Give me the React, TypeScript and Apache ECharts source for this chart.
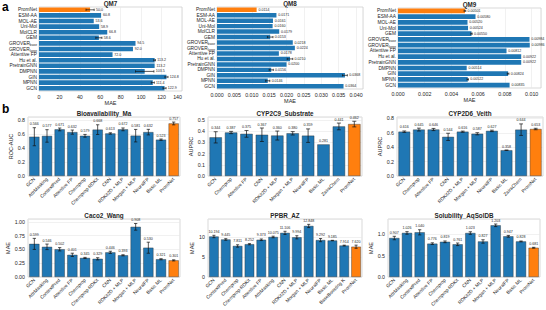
import React, { useEffect, useRef } from "react";
import * as echarts from "echarts";

const FONT = "'Liberation Sans', Arial, Helvetica, sans-serif";
const BLUE = "#1f77b4";
const ORANGE = "#ff7f0e";
const HIGHLIGHT = "PromNet";
const INK = "#262626";

// ---- a: quantum-property benchmarks (listed top to bottom)
const qm78Models = ["PromNet", "ESM-AA", "MOL-AE", "Uni-Mol", "MolCLR", "GEM", "GROVER_base", "GROVER_large", "Attentive FP", "Hu et al.", "PretrainGNN", "DMPNN", "GIN", "MPNN", "GCN"];
const qm7Mae = [50.0, 60.8, 53.6, 58.9, 66.8, 58.6, 94.5, 92.0, 72.0, 113.2, 113.2, 103.5, 124.8, 111.4, 122.9];
const qm7Err = [4.0, 0, 0, 0, 0, 3.0, 0, 0, 0, 0.8, 0, 9.0, 1.5, 1.5, 1.5];
const qm8Mae = [0.0114, 0.0171, 0.0161, 0.016, 0.0179, 0.0153, 0.0218, 0.0224, 0.0178, 0.021, 0.02, 0.0156, 0.0368, 0.0146, 0.0364];
const qm8Err = [0, 0, 0, 0, 0, 0.0008, 0, 0, 0, 0.0008, 0, 0.0006, 0.0007, 0.0006, 0];
const qm9Models = ["PromNet", "ESM-AA", "MOL-AE", "Uni-Mol", "GEM", "GROVER_base", "GROVER_large", "Attentive FP", "Hu et al.", "PretrainGNN", "DMPNN", "GIN", "MPNN", "GCN"];
const qm9Mae = [0.00501, 0.0058, 0.0052, 0.00524, 0.0055, 0.00984, 0.00986, 0.00812, 0.00922, 0.00922, 0.00514, 0.00824, 0.00522, 0.00835];
const qm9Err = [0.00006, 0, 0, 0, 0.00005, 0, 0, 0, 0, 0, 0, 0.00006, 0.00005, 0];

// ---- b: ADMET benchmarks
const bioModels = ["GCN", "AttrMasking", "ContextPred", "Attentive FP", "Chemprop", "Chemprop-RDKit", "CNN", "RDKit2D + MLP", "Morgan + MLP", "NeuralFP", "Basic ML", "PromNet"];
const bioAuc = [0.566, 0.577, 0.671, 0.632, 0.579, 0.668, 0.613, 0.672, 0.581, 0.632, 0.523, 0.757];
const bioErr = [0.13, 0.09, 0.02, 0.03, 0.02, 0.07, 0.01, 0.02, 0.09, 0.04, 0.01, 0.02];

const cypModels = ["GCN", "Chemprop", "Attentive FP", "CNN", "RDKit2D + MLP", "Morgan + MLP", "NeuralFP", "Basic ML", "ZairaChem", "PromNet"];
const cyp2c9Auprc = [0.344, 0.387, 0.375, 0.367, 0.36, 0.38, 0.359, 0.281, 0.441, 0.462];
const cyp2c9Err = [0.05, 0.01, 0.03, 0.06, 0.04, 0.015, 0.06, 0, 0.03, 0.025];
const cyp2d6Auprc = [0.616, 0.645, 0.646, 0.544, 0.616, 0.587, 0.627, 0.358, 0.644, 0.653];
const cyp2d6Err = [0.01, 0.02, 0.015, 0.05, 0.008, 0.015, 0.01, 0.003, 0.08, 0.01];

const cacoMae = [0.599, 0.546, 0.502, 0.401, 0.345, 0.329, 0.446, 0.393, 0.908, 0.53, 0.321, 0.301];
const cacoErr = [0.1, 0.05, 0.03, 0.03, 0.01, 0.02, 0.02, 0.01, 0.06, 0.1, 0.01, 0.01];

const ppbrModels = ["GCN", "ContextPred", "Chemprop", "Chemprop-RDKit", "Attentive FP", "AttrMasking", "CNN", "RDKit2D + MLP", "Morgan + MLP", "NeuralFP", "Basic ML", "BaseBoosting K", "PromNet"];
const ppbrMae = [10.194, 9.445, 7.811, 8.252, 9.373, 10.075, 11.106, 9.994, 12.848, 9.292, 9.185, 7.914, 7.62];
const ppbrErr = [0.3, 0.2, 0.3, 0.15, 0.2, 0.2, 0.4, 0.4, 0.4, 0.4, 0.05, 0.1, 0.4];

const solMae = [0.907, 1.026, 1.04, 0.776, 0.819, 0.761, 1.023, 0.827, 1.203, 0.947, 0.828, 0.681];
const solErr = [0.04, 0.03, 0.06, 0.02, 0.02, 0.03, 0.03, 0.04, 0.03, 0.02, 0.01, 0.01];

type Rect = { left: number; top: number; width: number; height: number };
type Panel = {
  title: string;
  cats: string[];
  vals: number[];
  errs: number[];
  rect: Rect;
  max: number;
  interval: number;
  tickDigits: number;
  valueDigits: number;
  axisName: string;
  nameGap: number;
};

const panelA: Panel[] = [
  { title: "QM7", cats: qm78Models, vals: qm7Mae, errs: qm7Err, rect: { left: 39, top: 7, width: 143, height: 84 }, max: 140, interval: 20, tickDigits: 0, valueDigits: 1, axisName: "MAE", nameGap: 9 },
  { title: "QM8", cats: qm78Models, vals: qm8Mae, errs: qm8Err, rect: { left: 217, top: 7, width: 146, height: 82 }, max: 0.042, interval: 0.005, tickDigits: 3, valueDigits: 4, axisName: "MAE", nameGap: 9 },
  { title: "QM9", cats: qm9Models, vals: qm9Mae, errs: qm9Err, rect: { left: 398, top: 8, width: 143, height: 80 }, max: 0.0107, interval: 0.002, tickDigits: 3, valueDigits: 5, axisName: "MAE", nameGap: 9 },
];

const panelB: Panel[] = [
  { title: "Bioavailability_Ma", cats: bioModels, vals: bioAuc, errs: bioErr, rect: { left: 28, top: 117, width: 152, height: 59 }, max: 0.85, interval: 0.2, tickDigits: 1, valueDigits: 3, axisName: "ROC-AUC", nameGap: 14 },
  { title: "CYP2C9_Substrate", cats: cypModels, vals: cyp2c9Auprc, errs: cyp2c9Err, rect: { left: 208, top: 117, width: 154, height: 59 }, max: 0.525, interval: 0.1, tickDigits: 1, valueDigits: 3, axisName: "AUPRC", nameGap: 11 },
  { title: "CYP2D6_Veith", cats: cypModels, vals: cyp2d6Auprc, errs: cyp2d6Err, rect: { left: 397, top: 117, width: 146, height: 59 }, max: 0.82, interval: 0.2, tickDigits: 1, valueDigits: 3, axisName: "AUPRC", nameGap: 14 },
  { title: "Caco2_Wang", cats: bioModels, vals: cacoMae, errs: cacoErr, rect: { left: 28, top: 219, width: 152, height: 58 }, max: 1.05, interval: 0.25, tickDigits: 2, valueDigits: 3, axisName: "MAE", nameGap: 16 },
  { title: "PPBR_AZ", cats: ppbrModels, vals: ppbrMae, errs: ppbrErr, rect: { left: 208, top: 219, width: 154, height: 58 }, max: 14.6, interval: 5, tickDigits: 0, valueDigits: 3, axisName: "MAE", nameGap: 10 },
  { title: "Solubility_AqSolDB", cats: bioModels, vals: solMae, errs: solErr, rect: { left: 388, top: 219, width: 152, height: 58 }, max: 1.35, interval: 0.5, tickDigits: 1, valueDigits: 3, axisName: "MAE", nameGap: 10 },
];

// Only label ticks that sit on the regular interval (the axis max may not)
function tickFmt(digits: number, interval: number) {
  return (v: number) => {
    const k = v / interval;
    if (Math.abs(k - Math.round(k)) > 1e-6) return "";
    return v.toFixed(digits);
  };
}

function barColor(name: string) {
  return name === HIGHLIGHT ? ORANGE : BLUE;
}

function textStyle(extra: any) {
  return {
    fontFamily: FONT,
    fill: INK,
    ...extra,
    textAlign: extra.align,
    textVerticalAlign: extra.verticalAlign,
  };
}

function buildOption() {
  const grid: any[] = [];
  const xAxis: any[] = [];
  const yAxis: any[] = [];
  const series: any[] = [];
  const graphic: any[] = [];

  const valueAxisBase = (p: Panel, gi: number) => {
    const onGrid = Math.abs(p.max / p.interval - Math.round(p.max / p.interval)) < 1e-6;
    return {
      type: "value",
      gridIndex: gi,
      min: 0,
      max: p.max,
      interval: p.interval,
      axisLine: { show: false },
      axisTick: { show: false },
      axisLabel: {
        fontSize: 5.3,
        color: INK,
        fontFamily: FONT,
        margin: 3,
        showMinLabel: true,
        showMaxLabel: onGrid,
        alignMaxLabel: onGrid ? "right" : undefined,
        hideOverlap: false,
        formatter: tickFmt(p.tickDigits, p.interval),
      },
      splitLine: { show: true, lineStyle: { color: "#e8e8e8", width: 0.6 } },
      name: p.axisName,
      nameLocation: "middle",
      nameGap: p.nameGap,
      nameTextStyle: { fontSize: 5.5, color: INK, fontFamily: FONT },
    };
  };

  const titleOf = (p: Panel) => ({
    type: "text",
    x: p.rect.left + p.rect.width / 2,
    y: p.rect.top - 1,
    style: textStyle({ text: p.title, fontSize: 6.3, fontWeight: "bold", align: "center", verticalAlign: "bottom" }),
  });

  // Horizontal panels (row a)
  panelA.forEach((p) => {
    const gi = grid.length;
    grid.push({ ...p.rect, show: true, borderColor: "#cfcfcf", borderWidth: 0.8, backgroundColor: "transparent" });
    xAxis.push(valueAxisBase(p, gi));
    yAxis.push({
      type: "category",
      gridIndex: gi,
      data: p.cats,
      inverse: true,
      axisLine: { show: false },
      axisTick: { show: false },
      splitLine: { show: false },
      axisLabel: {
        interval: 0,
        fontSize: 4.8,
        color: INK,
        fontFamily: FONT,
        margin: 2,
        formatter: (v: string) => (v.startsWith("GROVER_") ? `GROVER{sub|${v.slice(7)}}` : v),
        rich: { sub: { fontSize: 3.3, color: INK, fontFamily: FONT, padding: [3, 0, 0, 0] } },
      },
    });
    series.push({
      type: "bar",
      xAxisIndex: gi,
      yAxisIndex: gi,
      barCategoryGap: "18%",
      data: p.vals.map((v, i) => ({ value: v, itemStyle: { color: barColor(p.cats[i]) } })),
    });
    series.push({
      type: "custom",
      xAxisIndex: gi,
      yAxisIndex: gi,
      silent: true,
      z: 5,
      data: p.vals.map((v, i) => [v, i, p.errs[i]]),
      renderItem: (_params: any, api: any) => {
        const v = api.value(0);
        const c = api.value(1);
        const e = api.value(2);
        const band = api.size([0, 1])[1];
        const cap = band * 0.2;
        const lo = api.coord([v - e, c]);
        const hi = api.coord([v + e, c]);
        const children: any[] = [];
        if (e > 0) {
          const stroke = { stroke: "#111", lineWidth: 0.7 };
          children.push({ type: "line", shape: { x1: lo[0], y1: lo[1], x2: hi[0], y2: hi[1] }, style: stroke });
          children.push({ type: "line", shape: { x1: lo[0], y1: lo[1] - cap, x2: lo[0], y2: lo[1] + cap }, style: stroke });
          children.push({ type: "line", shape: { x1: hi[0], y1: hi[1] - cap, x2: hi[0], y2: hi[1] + cap }, style: stroke });
        }
        children.push({
          type: "text",
          style: textStyle({ text: v.toFixed(p.valueDigits), x: hi[0] + 1.8, y: hi[1], fontSize: 3.6, align: "left", verticalAlign: "middle" }),
        });
        return { type: "group", children };
      },
    });
    graphic.push(titleOf(p));
  });

  // Vertical panels (row b)
  panelB.forEach((p) => {
    const gi = grid.length;
    grid.push({ ...p.rect, show: true, borderColor: "#cfcfcf", borderWidth: 0.8, backgroundColor: "transparent" });
    xAxis.push({
      type: "category",
      gridIndex: gi,
      data: p.cats,
      axisLine: { show: false },
      axisTick: { show: false },
      splitLine: { show: false },
      axisLabel: { fontSize: 4.8, color: INK, fontFamily: FONT, margin: 2.5, rotate: 45, interval: 0 },
    });
    yAxis.push(valueAxisBase(p, gi));
    series.push({
      type: "bar",
      xAxisIndex: gi,
      yAxisIndex: gi,
      barCategoryGap: "20%",
      data: p.vals.map((v, i) => ({
        value: v,
        itemStyle: { color: barColor(p.cats[i]), borderColor: "#2b2b2b", borderWidth: 0.4 },
      })),
    });
    series.push({
      type: "custom",
      xAxisIndex: gi,
      yAxisIndex: gi,
      silent: true,
      z: 5,
      data: p.vals.map((v, i) => [i, v, p.errs[i]]),
      renderItem: (_params: any, api: any) => {
        const c = api.value(0);
        const v = api.value(1);
        const e = api.value(2);
        const band = api.size([1, 0])[0];
        const cap = band * 0.13;
        const lo = api.coord([c, v - e]);
        const hi = api.coord([c, v + e]);
        const children: any[] = [];
        if (e > 0) {
          const stroke = { stroke: "#111", lineWidth: 0.7 };
          children.push({ type: "line", shape: { x1: lo[0], y1: lo[1], x2: hi[0], y2: hi[1] }, style: stroke });
          children.push({ type: "line", shape: { x1: lo[0] - cap, y1: lo[1], x2: lo[0] + cap, y2: lo[1] }, style: stroke });
          children.push({ type: "line", shape: { x1: hi[0] - cap, y1: hi[1], x2: hi[0] + cap, y2: hi[1] }, style: stroke });
        }
        children.push({
          type: "text",
          style: textStyle({ text: v.toFixed(p.valueDigits), x: hi[0], y: hi[1] - 1.5, fontSize: 3.6, align: "center", verticalAlign: "bottom" }),
        });
        return { type: "group", children };
      },
    });
    graphic.push(titleOf(p));
  });

  graphic.push({
    type: "text",
    x: 2,
    y: 1,
    style: textStyle({ text: "a", fontSize: 12, fontWeight: "bold", fill: "#000", align: "left", verticalAlign: "top" }),
  });
  graphic.push({
    type: "text",
    x: 2,
    y: 103,
    style: textStyle({ text: "b", fontSize: 12, fontWeight: "bold", fill: "#000", align: "left", verticalAlign: "top" }),
  });

  return {
    animation: false,
    backgroundColor: "#ffffff",
    textStyle: { fontFamily: FONT },
    grid,
    xAxis,
    yAxis,
    series,
    graphic,
  };
}

export default function App() {
  const ref = useRef<HTMLDivElement>(null);
  useEffect(() => {
    if (!ref.current) return;
    const chart = echarts.init(ref.current, undefined, { renderer: "svg" });
    chart.setOption(buildOption() as any);
    return () => chart.dispose();
  }, []);
  return <div ref={ref} style={{ position: "absolute", left: 0, top: 0, width: 546, height: 310 }} />;
}
